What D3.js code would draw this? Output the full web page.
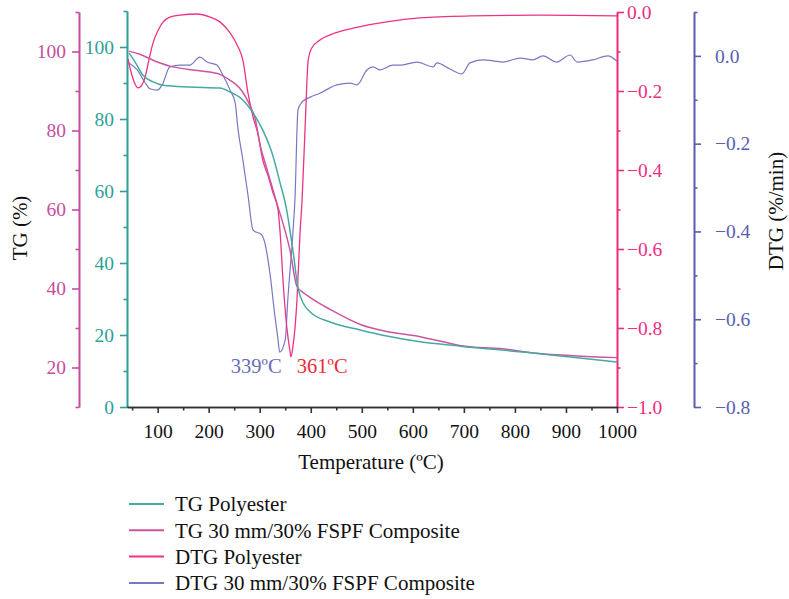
<!DOCTYPE html>
<html><head><meta charset="utf-8">
<script src="https://cdn.jsdelivr.net/npm/d3@7"></script>
<style>body{margin:0;background:#fff}svg{display:block}text{font-family:"Liberation Serif","Times New Roman",serif}</style>
</head><body><svg id="c" width="789" height="599"></svg>
<script>
// ---- data (temperature °C, value) ----
const tgPolyT = [44,56,71,91,111,163,222,242,267,287,306,324,340,352,365,375,385,399,438,497,549,614,692,835,1000];
const tgPolyV = [98.3,95.8,92.2,90.3,89.4,88.9,88.6,87.5,85.3,81.7,76.9,70.6,62.2,55.3,43.6,33.1,28.9,26.4,23.6,21.4,19.7,18.1,16.9,15.0,12.5];

const tgCompT = [44,65,91,124,158,189,222,242,261,281,291,301,314,334,346,359,373,385,399,438,497,549,614,659,706,771,835,914,1000];
const tgCompV = [100.1,99.3,97.8,96.3,95.5,95.0,94.2,92.7,90.7,86.3,83.0,76.2,70.3,61.4,56.3,49.9,40.5,39.0,37.7,34.7,30.9,29.1,27.8,26.5,25.3,24.8,23.7,23.0,22.5];

const dtgPolyT = [42,48,54,62,69,75,83,91,101,111,124,144,177,203,222,242,256,267,277,287,297,306,316,326,336,340,346,353,359,361,365,373,379,383,389,395,402,418,448,483,549,614,712,849,1000];
const dtgPolyV = [-0.119,-0.152,-0.177,-0.192,-0.185,-0.167,-0.121,-0.078,-0.046,-0.025,-0.013,-0.008,-0.005,-0.013,-0.025,-0.053,-0.084,-0.122,-0.205,-0.266,-0.311,-0.375,-0.413,-0.458,-0.501,-0.559,-0.686,-0.797,-0.856,-0.873,-0.848,-0.729,-0.559,-0.476,-0.291,-0.122,-0.091,-0.071,-0.053,-0.041,-0.025,-0.015,-0.010,-0.008,-0.010];

const dtgCompT = [44,60,75,85,99,109,124,144,163,183,197,216,228,242,252,257,267,277,287,304,310,320,330,336,339,350,355,365,369,375,383,399,418,451,477,491,510,522,536,561,575,608,640,647,673,696,712,737,777,810,835,855,882,908,922,953,982,1000];
const dtgCompV = [-0.016,-0.032,-0.060,-0.075,-0.078,-0.066,-0.025,-0.021,-0.021,-0.003,-0.014,-0.021,-0.044,-0.078,-0.107,-0.162,-0.237,-0.317,-0.397,-0.408,-0.426,-0.495,-0.595,-0.647,-0.675,-0.647,-0.556,-0.404,-0.328,-0.123,-0.105,-0.094,-0.085,-0.066,-0.062,-0.066,-0.032,-0.025,-0.032,-0.021,-0.021,-0.014,-0.025,-0.016,-0.030,-0.041,-0.016,-0.009,-0.014,-0.005,-0.009,0.000,-0.014,0.002,-0.014,-0.009,0.000,-0.012];

const xMajor = [100,200,300,400,500,600,700,800,900,1000];
const xMinor = [50,150,250,350,450,550,650,750,850,950];
const tgMajor = [0,20,40,60,80,100];
const tgMinor = [10,30,50,70,90,110];
const tg2Major = [20,40,60,80,100];
const tg2Minor = [10,30,50,70,90,110];
const dtgMajor = [-1.0,-0.8,-0.6,-0.4,-0.2,0.0];
const dtgMinor = [-0.9,-0.7,-0.5,-0.3,-0.1];
const dtg2Major = [-0.8,-0.6,-0.4,-0.2,0.0];
const dtg2Minor = [-0.7,-0.5,-0.3,-0.1,0.1];

const legendLabels = ["TG Polyester","TG 30 mm/30% FSPF Composite","DTG Polyester","DTG 30 mm/30% FSPF Composite"];
const peakLabels = ["339ºC","361ºC"];
const peakT = [339,361];

// ---- drawing ----
const C = {teal:"#2f9f97", mag:"#c54d9d", pink:"#ee2d7c", blue:"#5a5db0",
           tealL:"#45aaa2", magL:"#cd55a0", pinkL:"#ed3382", blueL:"#7878c2"};
const svg = d3.select("#c");
const x = d3.scaleLinear([40,1000],[127,617]);
const yTeal = d3.scaleLinear([0,110],[407,11]);
const yMag = d3.scaleLinear([10,110],[407,12]);
const yPink = d3.scaleLinear([-1,0],[407,12]);
const yBlue = d3.scaleLinear([-0.8,0.1],[407,12]);
const TF = 19.5;

function styleAxis(g,color){
  g.selectAll("path,line").attr("stroke",color).attr("stroke-width",1.6);
  g.selectAll("text").attr("fill",color).attr("font-size",TF).attr("font-family","Liberation Serif");
}
function drawAxis(axisFn, scale, major, minor, fmt, tx, ty, color, pad){
  const gM = svg.append("g").attr("transform",`translate(${tx},${ty})`)
    .call(axisFn(scale).tickValues(minor).tickSize(3.5).tickSizeOuter(0).tickFormat(""));
  styleAxis(gM,color);
  const g = svg.append("g").attr("transform",`translate(${tx},${ty})`)
    .call(axisFn(scale).tickValues(major).tickSize(7).tickSizeOuter(0).tickPadding(pad).tickFormat(fmt));
  styleAxis(g,color);
  return g;
}
drawAxis(d3.axisLeft, yMag, tg2Major, tg2Minor, d3.format("d"), 79, 0, C.mag, 6);
drawAxis(d3.axisLeft, yTeal, tgMajor, tgMinor, d3.format("d"), 127, 0, C.teal, 6);
drawAxis(d3.axisRight, yPink, dtgMajor, dtgMinor, d3.format(".1f"), 617, 0, C.pink, 3);
drawAxis(d3.axisRight, yBlue, dtg2Major, dtg2Minor, d3.format(".1f"), 694, 0, C.blue, 14);

// x axis
const gxm = svg.append("g").attr("transform","translate(0,407)")
  .call(d3.axisBottom(x).tickValues(xMinor).tickSize(3.5).tickSizeOuter(0).tickFormat(""));
gxm.selectAll("path,line").attr("stroke","#333").attr("stroke-width",1.6);
const gx = svg.append("g").attr("transform","translate(0,407)")
  .call(d3.axisBottom(x).tickValues(xMajor).tickSize(6).tickSizeOuter(0).tickPadding(11).tickFormat(d3.format("d")));
gx.selectAll("path,line").attr("stroke","#333").attr("stroke-width",1.6);
gx.selectAll("text").attr("fill","#111").attr("font-size",TF).attr("font-family","Liberation Serif");

// series
const series = [
  {T:dtgCompT, V:dtgCompV, y:yBlue, color:C.blueL, w:1.2},
  {T:dtgPolyT, V:dtgPolyV, y:yPink, color:C.pinkL, w:1.3},
  {T:tgCompT, V:tgCompV, y:yMag, color:C.magL, w:1.5},
  {T:tgPolyT, V:tgPolyV, y:yTeal, color:C.tealL, w:1.5},
];
series.forEach(s=>{
  const pts = s.T.map((t,i)=>[t,s.V[i]]);
  svg.append("path").datum(pts)
    .attr("fill","none").attr("stroke",s.color).attr("stroke-width",s.w).attr("stroke-linejoin","round")
    .attr("d", d3.line().x(d=>x(d[0])).y(d=>s.y(d[1])).curve(d3.curveMonotoneX));
});

// peak labels
svg.append("text").attr("x",x(peakT[0])+2).attr("y",373).attr("text-anchor","end")
  .attr("font-size",20.5).attr("fill","#6a6bb9").text(peakLabels[0]);
svg.append("text").attr("x",x(peakT[1])+6).attr("y",373).attr("text-anchor","start")
  .attr("font-size",20.5).attr("fill","#ee2a3a").text(peakLabels[1]);

// axis titles
svg.append("text").attr("transform","translate(27,228) rotate(-90)").attr("text-anchor","middle")
  .attr("font-size",21).attr("fill","#111").text("TG (%)");
svg.append("text").attr("transform","translate(783,211) rotate(-90)").attr("text-anchor","middle")
  .attr("font-size",21).attr("fill","#111").text("DTG (%/min)");
svg.append("text").attr("x",371).attr("y",469).attr("text-anchor","middle")
  .attr("font-size",21).attr("fill","#111").text("Temperature (ºC)");

// legend
const legColors = [C.tealL, C.magL, C.pinkL, C.blueL];
legendLabels.forEach((lab,i)=>{
  const yy = 504 + i*26.3;
  svg.append("line").attr("x1",129).attr("x2",164).attr("y1",yy).attr("y2",yy)
    .attr("stroke",legColors[i]).attr("stroke-width",2);
  svg.append("text").attr("x",175).attr("y",yy).attr("dy","0.35em")
    .attr("font-size",21).attr("fill","#111").text(lab);
});
</script></body></html>
